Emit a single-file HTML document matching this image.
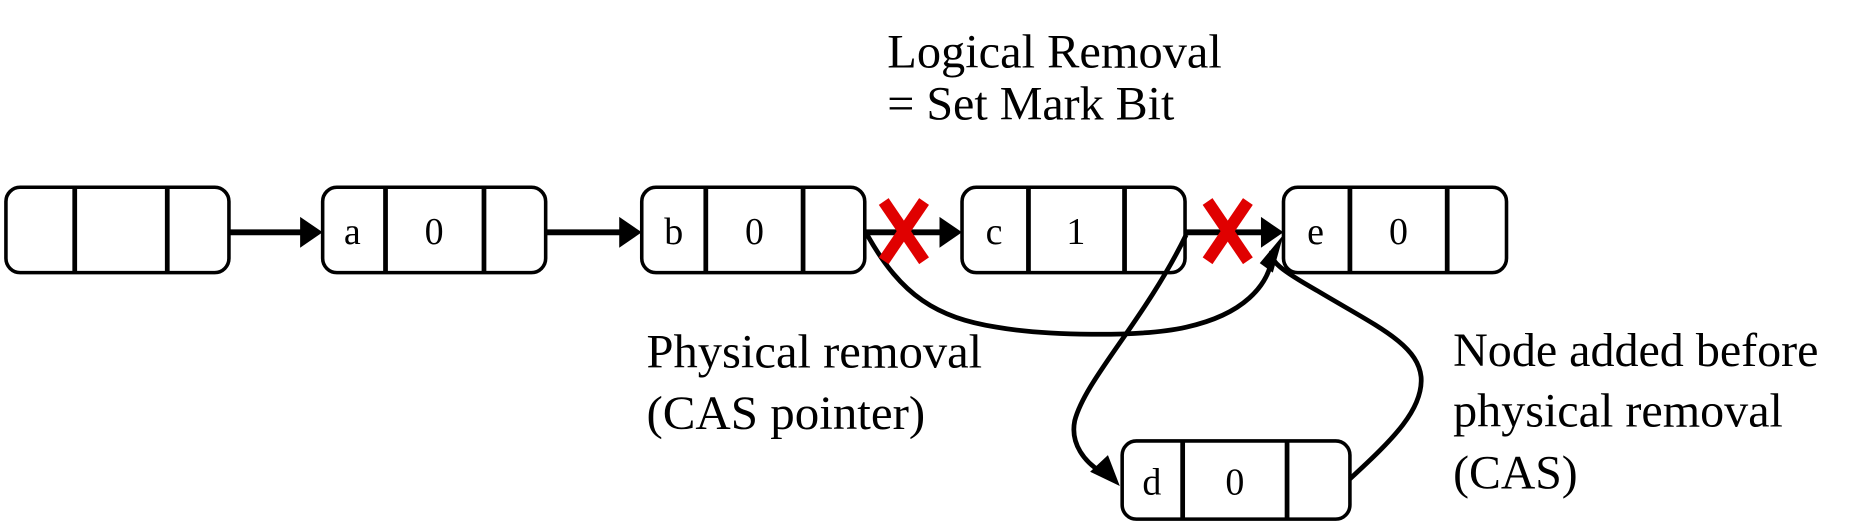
<!DOCTYPE html>
<html><head><style>html,body{margin:0;padding:0;background:#fff;}svg{display:block}</style></head>
<body>
<svg width="1860" height="531" viewBox="0 0 1568 448" preserveAspectRatio="none" xmlns="http://www.w3.org/2000/svg">
<g fill="none" stroke="#000" stroke-width="3">
<rect x="5" y="158" width="188" height="72" rx="12"/>
<line x1="63" y1="158" x2="63" y2="230" stroke-width="4"/><line x1="141" y1="158" x2="141" y2="230" stroke-width="4"/>
<rect x="272" y="158" width="188" height="72" rx="12"/>
<line x1="325" y1="158" x2="325" y2="230" stroke-width="4"/><line x1="408" y1="158" x2="408" y2="230" stroke-width="4"/>
<rect x="541" y="158" width="188" height="72" rx="12"/>
<line x1="595" y1="158" x2="595" y2="230" stroke-width="4"/><line x1="677" y1="158" x2="677" y2="230" stroke-width="4"/>
<rect x="811" y="158" width="188" height="72" rx="12"/>
<line x1="867" y1="158" x2="867" y2="230" stroke-width="4"/><line x1="948" y1="158" x2="948" y2="230" stroke-width="4"/>
<rect x="1082" y="158" width="188" height="72" rx="12"/>
<line x1="1138" y1="158" x2="1138" y2="230" stroke-width="4"/><line x1="1220" y1="158" x2="1220" y2="230" stroke-width="4"/>
<rect x="946" y="372" width="192" height="66" rx="12"/>
<line x1="997" y1="372" x2="997" y2="438" stroke-width="4"/><line x1="1085" y1="372" x2="1085" y2="438" stroke-width="4"/>
<line x1="193" y1="196" x2="255" y2="196" stroke-width="5"/>
<line x1="460" y1="196" x2="524" y2="196" stroke-width="5"/>
<line x1="729" y1="196" x2="795" y2="196" stroke-width="5"/>
<line x1="999" y1="196" x2="1066" y2="196" stroke-width="5"/>
<g stroke-width="4">
<path d="M731 198 C760 250 790 268 840 276 C880 283 960 285 1000 276 C1050 265 1068 240 1072 220"/>
<path d="M1000 198 C965 270 915 320 906 355 C902 375 915 390 928 398"/>
<path d="M1138 404 C1175 370 1200 345 1198 318 C1195 290 1160 275 1110 245 C1080 228 1070 220 1072 212"/>
</g>
</g>
<g fill="#000">
<polygon points="272,196 253,183 253,209"/>
<polygon points="541,196 522,183 522,209"/>
<polygon points="811,196 792,183 792,209"/>
<polygon points="1082,196 1063,183 1063,209"/>
<polygon points="1082,198 1073,230 1062,222"/>
<polygon points="944,410 919,398 934,384"/>
</g>
<g stroke="#e00000" stroke-width="10" stroke-linecap="butt">
<line x1="745" y1="170" x2="779" y2="220"/><line x1="779" y1="170" x2="745" y2="220"/>
<line x1="1018" y1="170" x2="1052" y2="220"/><line x1="1052" y1="170" x2="1018" y2="220"/>
</g>
<g font-family="Liberation Serif, serif" font-size="32" text-anchor="middle" fill="#000">
<text x="297" y="206">a</text><text x="366" y="206">0</text>
<text x="568" y="206">b</text><text x="636" y="206">0</text>
<text x="838" y="206">c</text><text x="907" y="206">1</text>
<text x="1109" y="206">e</text><text x="1179" y="206">0</text>
<text x="971" y="417">d</text><text x="1041" y="417">0</text>
</g>
<g font-family="Liberation Serif, serif" font-size="40" fill="#000">
<text x="748" y="57" textLength="282" lengthAdjust="spacingAndGlyphs">Logical Removal</text>
<text x="748" y="101" textLength="242" lengthAdjust="spacingAndGlyphs">= Set Mark Bit</text>
<text x="545" y="310" textLength="283" lengthAdjust="spacingAndGlyphs">Physical removal</text>
<text x="545" y="362" textLength="235" lengthAdjust="spacingAndGlyphs">(CAS pointer)</text>
<text x="1225" y="309" textLength="308" lengthAdjust="spacingAndGlyphs">Node added before</text>
<text x="1225" y="360" textLength="278" lengthAdjust="spacingAndGlyphs">physical removal</text>
<text x="1225" y="412" textLength="105" lengthAdjust="spacingAndGlyphs">(CAS)</text>
</g>
</svg>
</body></html>
